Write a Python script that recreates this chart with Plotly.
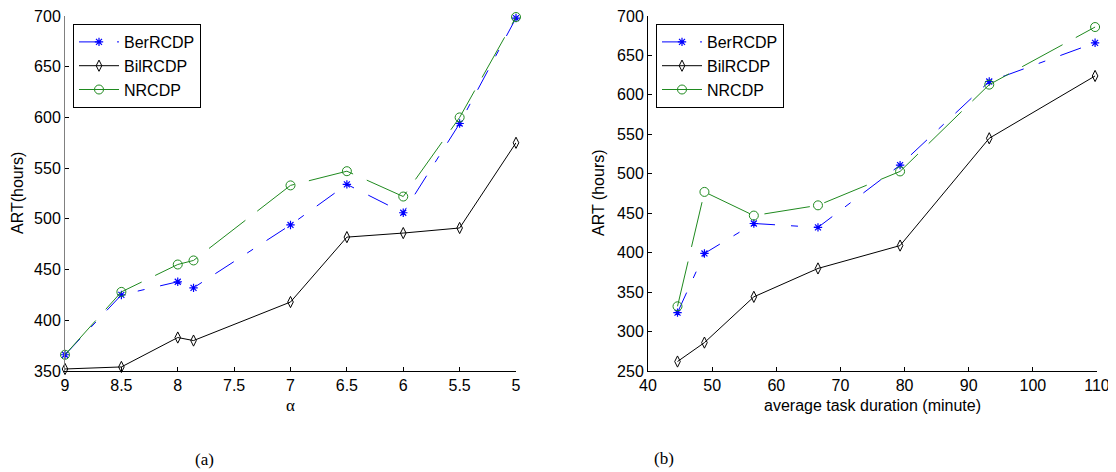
import plotly.graph_objects as go

# ---- data ----
alpha = [9, 8.5, 8, 7.86, 7, 6.5, 6, 5.5, 5]
ber_a = [366, 425, 438, 432, 494, 534, 506, 594, 698]
bil_a = [352, 354, 383, 380, 418, 482, 486, 491, 575]
nr_a = [366, 428, 455, 459, 533, 547, 522, 600, 699]

duration = [44.6, 48.8, 56.5, 66.5, 79.3, 93.2, 109.7]
ber_b = [324, 399, 437, 432, 511, 617, 666]
bil_b = [262, 286, 344, 380, 409, 545, 624]
nr_b = [332, 477, 447, 460, 503, 613, 686]

alpha_ticks = [9, 8.5, 8, 7.5, 7, 6.5, 6, 5.5, 5]
art_ticks_a = [350, 400, 450, 500, 550, 600, 650, 700]
dur_ticks = [40, 50, 60, 70, 80, 90, 100, 110]
art_ticks_b = [250, 300, 350, 400, 450, 500, 550, 600, 650, 700]

# the page body has an 8px margin, so the figure is offset by 8px
OFF = 8
W, H = 1116 - OFF, 472 - OFF
FONT = "Liberation Sans, Arial, sans-serif"
SERIF = "Liberation Serif, Times New Roman, serif"


def px(x):
    return (x - OFF) / W


def py(y):
    return (H - (y - OFF)) / H


BLUE = "#0000ff"
GREEN = "#1f8a1f"
BLACK = "#000000"

ber_style = dict(line=dict(color=BLUE, width=1, dash="22px,16px,7px,16px"),
                 marker=dict(symbol="asterisk-open", size=7, color=BLUE,
                             line=dict(color=BLUE, width=1.2)))
bil_style = dict(line=dict(color=BLACK, width=1),
                 marker=dict(symbol="diamond-tall-open", size=8, color=BLACK,
                             line=dict(color=BLACK, width=1)))
nr_style = dict(line=dict(color=GREEN, width=1, dash="46px,15px"),
                marker=dict(symbol="circle-open", size=9, color=GREEN,
                            line=dict(color=GREEN, width=1)))

fig = go.Figure()


def add(x, y, name, style, xa, ya, leg):
    fig.add_trace(go.Scatter(x=x, y=y, name=name, mode="lines+markers",
                             xaxis=xa, yaxis=ya, legend=leg, cliponaxis=False,
                             **style))


add(alpha, ber_a, "BerRCDP", ber_style, "x", "y", "legend")
add(alpha, bil_a, "BilRCDP", bil_style, "x", "y", "legend")
add(alpha, nr_a, "NRCDP", nr_style, "x", "y", "legend")
add(duration, ber_b, "BerRCDP", ber_style, "x2", "y2", "legend2")
add(duration, bil_b, "BilRCDP", bil_style, "x2", "y2", "legend2")
add(duration, nr_b, "NRCDP", nr_style, "x2", "y2", "legend2")

ydom = [py(371), py(16)]
tickfont = dict(family=FONT, size=16, color="#000000")

common_x = dict(showgrid=False, zeroline=False, ticks="inside", ticklen=4,
                tickcolor="#000000", tickwidth=1, showline=True,
                linecolor="#000000", linewidth=1, tickfont=tickfont,
                automargin=False, ticklabeloverflow="allow")
common_y = dict(showgrid=False, zeroline=False, ticks="inside", ticklen=4,
                tickcolor="#000000", tickwidth=1, showline=True,
                linewidth=1, tickfont=tickfont, automargin=False,
                ticklabeloverflow="allow")

leg_common = dict(bgcolor="white", bordercolor="#000000", borderwidth=1,
                  font=dict(family=FONT, size=16, color="#000000"),
                  xanchor="left", yanchor="top", tracegroupgap=0,
                  itemwidth=40, xref="paper", yref="paper")

fig.update_layout(
    width=W, height=H,
    margin=dict(l=0, r=0, t=0, b=0, pad=0, autoexpand=False),
    paper_bgcolor="white", plot_bgcolor="white",
    xaxis=dict(domain=[px(65), px(516)], range=[9, 5], tickvals=alpha_ticks,
               ticktext=[str(v) for v in alpha_ticks], anchor="y", **common_x),
    yaxis=dict(domain=ydom, range=[350, 700], tickvals=art_ticks_a,
               linecolor="#808080", anchor="x", **common_y),
    xaxis2=dict(domain=[px(648), px(1097)], range=[40, 110], tickvals=dur_ticks,
                anchor="y2", **common_x),
    yaxis2=dict(domain=ydom, range=[250, 700], tickvals=art_ticks_b,
                linecolor="#000000", anchor="x2", **common_y),
    legend=dict(x=px(73), y=py(24), **leg_common),
    legend2=dict(x=px(656), y=py(24), **leg_common),
    showlegend=True,
)


def ann(text, x, y, angle=0, family=FONT, size=16):
    fig.add_annotation(text=text, x=px(x), y=py(y), xref="paper", yref="paper",
                       showarrow=False, textangle=angle, xanchor="center",
                       yanchor="middle", font=dict(family=family, size=size, color="#000000"))


ann("ART(hours)", 18, 193, angle=-90)
ann("ART (hours)", 599, 193, angle=-90)
ann("α", 290, 405, family=SERIF, size=17)
ann("average task duration (minute)", 872, 405)
ann("(a)", 204, 459, family=SERIF, size=17)
ann("(b)", 664, 458, family=SERIF, size=17)

fig.write_html("out.html")
